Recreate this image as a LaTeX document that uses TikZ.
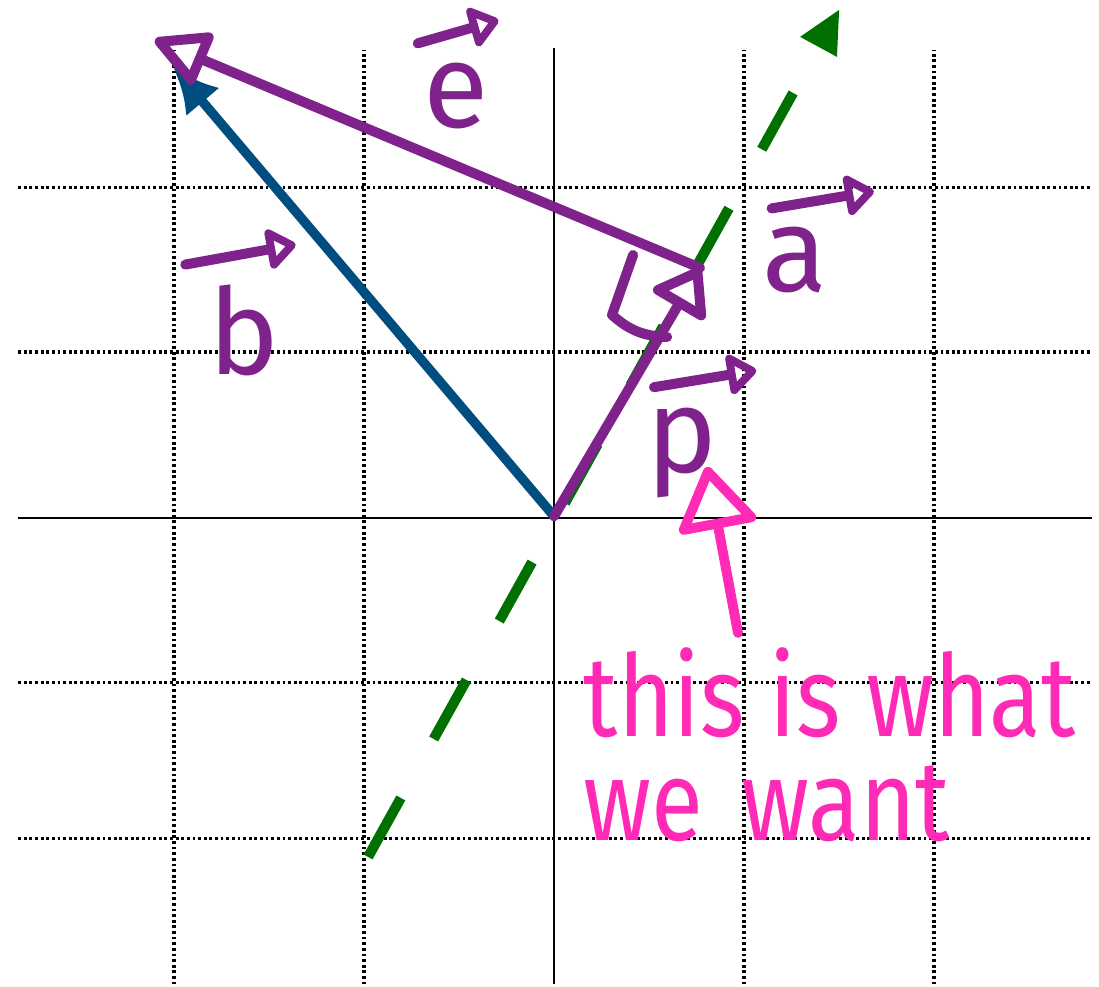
\documentclass[tikz,border=0pt]{standalone}
\usepackage{amsmath,amssymb}
\usepackage{fontspec}
\newfontfamily\handfont{Fira Sans}
\usepackage{tikz}
\usetikzlibrary{positioning,calc,arrows.meta}
\usepackage{xcolor}
\definecolor{penpurple}{RGB}{128,34,140}
\definecolor{penblue}{RGB}{0,77,127}
\definecolor{pengreen}{RGB}{0,112,0}
\definecolor{penpink}{RGB}{255,42,182}

\begin{document}
\begin{tikzpicture}[x=1.9cm,y=1.66cm,
  gridline/.style={black,line width=1pt,dash pattern=on 0.8pt off 0.8pt},
  axis/.style={black,line width=0.75pt},
  pen/.style={penpurple,line width=2.85pt,line cap=round,line join=round},
  vecmark/.style={pen,-{Triangle[open,round,length=9pt,width=13pt]}},
  veclabel/.style={penpurple,inner sep=0pt,font=\handfont\fontsize{34}{36}\selectfont},
  note/.style={penpink,inner sep=0pt,font=\handfont\fontsize{27}{30}\selectfont}]

\useasboundingbox (-2.916,-2.825) rectangle (2.868,3.120);

\foreach \x in {-2,-1,1,2}
  \draw[gridline] (\x,-2.81) -- (\x,2.82);
\foreach \y in {1.99,1,-0.99,-1.93}
  \draw[gridline] (-2.82,\y) -- (2.83,\y);
\draw[axis] (-2.82,0) -- (2.83,0);
\draw[axis] (0,-2.81) -- (0,2.83);

\coordinate (O) at (0,0.01);
\coordinate (a-start) at (-0.979,-2.042);
\coordinate (a-end) at (1.258,2.56);
\coordinate (b-tip) at (-2.005,2.717);
\coordinate (p-tip) at (0.768,1.506);
\coordinate (e-tip) at (-2.1,2.88);
\coordinate (q-tail) at (0.968,-0.693);
\coordinate (q-tip) at (0.805,0.307);

\draw[pengreen,line width=2.9pt,dash pattern=on 19.2pt off 19.2pt] (a-start) -- (a-end);
\fill[pengreen] (1.295,2.898) -- (1.5,3.06) -- (1.489,2.777) -- cycle;

\draw[penblue,line width=2.7pt,-{Latex[length=13pt,width=12.5pt]}] (O) -- (b-tip);

\draw[pen,-{Triangle[open,round,length=14pt,width=19pt]}] (O) -- (p-tip);
\draw[pen,-{Triangle[open,round,length=17pt,width=17pt]}] (p-tip) -- (e-tip);
\draw[pen] (0.416,1.584) -- (0.305,1.223) to[bend right=20] (0.595,1.09);

\node[veclabel] (lbl-e) at (-0.516,2.542) {e};
\node[veclabel] (lbl-a) at (1.268,1.554) {a};
\node[veclabel] (lbl-b) at (-1.63,1.127) {b};
\node[veclabel] (lbl-p) at (0.674,0.392) {p};
\draw[vecmark] ([shift={(-1.4pt,5.4pt)}]lbl-e.north west) -- ([shift={(2.6pt,12pt)}]lbl-e.north east);
\draw[vecmark] ([shift={(2.8pt,5.1pt)}]lbl-a.north west) -- ([shift={(13pt,10pt)}]lbl-a.north east);
\draw[vecmark] ([shift={(-6.5pt,5.7pt)}]lbl-b.north west) -- ([shift={(4.3pt,11.4pt)}]lbl-b.north east);
\draw[vecmark] ([shift={(2.3pt,5.7pt)}]lbl-p.north west) -- ([shift={(10.8pt,10.5pt)}]lbl-p.north east);

\node[note,anchor=base west] (note-1) at (0.153,-1.319) {\scalebox{1}[1.2]{this is what}};
\node[note,anchor=base west] (note-2) at (0.153,-1.94) {\scalebox{1}[1.2]{we\hspace{0.4em}want}};
\draw[penpink,line width=2.8pt,line cap=round,-{Triangle[open,round,length=19pt,width=24pt]}] (q-tail) -- (q-tip);
\end{tikzpicture}
\end{document}
